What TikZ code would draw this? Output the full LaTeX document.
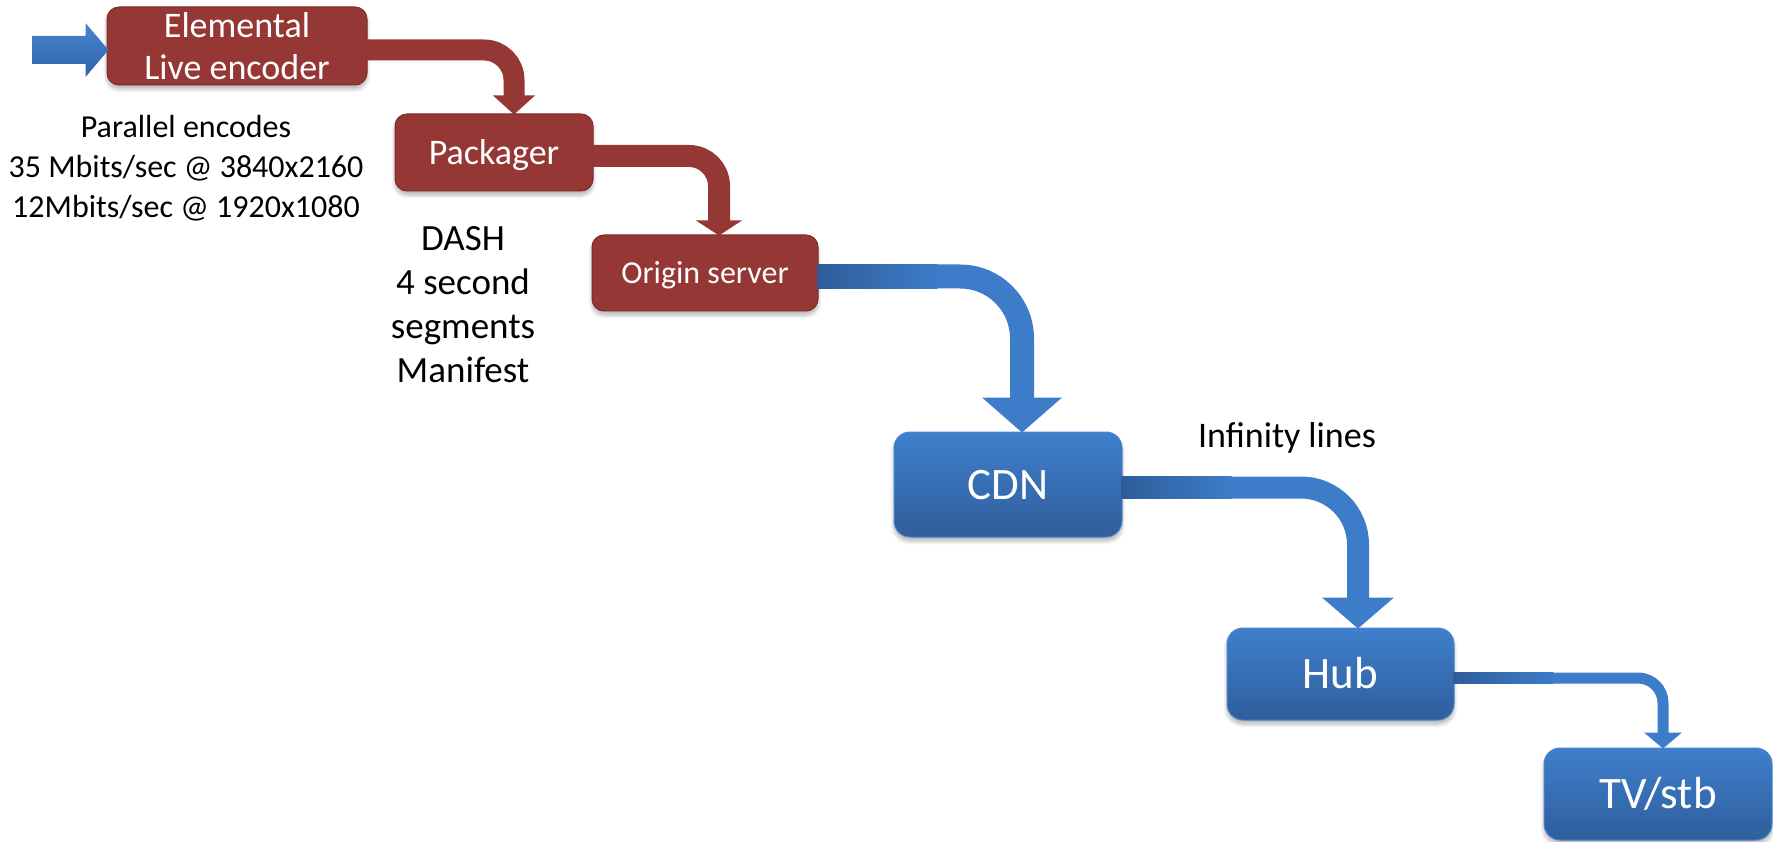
\documentclass[tikz,border=0pt]{standalone}
\usepackage{fontspec}
\setmainfont{Carlito}
\usetikzlibrary{calc,shadows.blur}

\definecolor{boxred}{HTML}{953735}
\definecolor{edgered}{HTML}{7E2D2B}
\definecolor{flowblue}{HTML}{3D7CC9}
\definecolor{shaftdark}{HTML}{2E5D9A}
\definecolor{boxtop}{HTML}{3F7FCC}
\definecolor{boxbottom}{HTML}{2F5E9C}
\definecolor{boxedge}{HTML}{4A86CE}
\definecolor{inlight}{HTML}{4686D2}
\definecolor{indark}{HTML}{2F63A6}

\tikzset{
  softshadow/.style={blur shadow={shadow xshift=0pt, shadow yshift=-4pt,
      shadow blur radius=4pt, shadow blur steps=8, shadow opacity=30}},
  stage/.style={rectangle, rounded corners=12pt, fill=boxred, draw=edgered,
      line width=1pt, text=white, inner sep=0pt, softshadow,
      font=\fontsize{36}{42}\selectfont},
  hop/.style={rectangle, rounded corners=16pt, top color=boxtop,
      bottom color=boxbottom, draw=boxedge, line width=1pt, text=white,
      inner sep=0pt, softshadow, font=\fontsize{45}{54}\selectfont,
      text height=29pt, text depth=0pt},
  note/.style={text=black, align=center, inner sep=0pt},
}

% bent block arrow: colour, start, tip, shaft width, head half-width,
% head length, corner radius
\newcommand{\flowbend}[7]{%
  \draw[#1, line width=#4, rounded corners=#7] (#2) -| ($(#3)+(0,-#6+1)$);
  \fill[#1] ($(#3)+(-#5,-#6)$) -- (#3) -- ($(#3)+(#5,-#6)$) -- cycle;
}
% darker start of a blue shaft: start, shaft width, length
\newcommand{\shaftshade}[3]{%
  \shade[left color=shaftdark, right color=flowblue]
    ($(#1)+(0,-#2/2)$) rectangle ($(#1)+(#3,#2/2)$);
}

\begin{document}
\begin{tikzpicture}[x=1pt,y=-1pt]
\useasboundingbox (0,0) rectangle (1773,842);

% processing stages
\node[stage, minimum width=260pt, minimum height=78pt, align=center]
  (enc) at (237,46) {Elemental\\Live encoder};
\node[stage, text height=23.4pt, text depth=0pt,
      minimum width=198pt, minimum height=77pt]
  (pkg) at (494,152.5) {Packager};
\node[stage, text height=20.8pt, text depth=0pt,
      minimum width=226pt, minimum height=76pt,
      font=\fontsize{32}{38}\selectfont]
  (orig) at (705,273) {Origin server};

% delivery chain
\node[hop, minimum width=228pt, minimum height=105pt] (cdn) at (1008,484.5) {CDN};
\node[hop, minimum width=227pt, minimum height=92pt] (hub) at (1340.5,674) {Hub};
\node[hop, minimum width=228pt, minimum height=92pt] (tv) at (1658,794) {TV/stb};

% notes (anchored on the baseline of their last line)
\node[note, font=\fontsize{32}{40}\selectfont, anchor=base] (encnote) at (186,218)
  {Parallel encodes\\35 Mbits/sec @ 3840x2160\\12Mbits/sec @ 1920x1080};
\node[note, font=\fontsize{37}{44}\selectfont, anchor=base] (dashnote) at (463,382)
  {DASH\\4 second\\segments\\Manifest};
\node[note, font=\fontsize{36}{43}\selectfont, anchor=base] (linknote) at (1287,447)
  {Infinity lines};

% incoming feed
\coordinate (src) at (32,50);
\coordinate (inTip) at ($(enc.west)+(2,4)$);
\shade[top color=inlight, bottom color=indark]
  ($(src)+(0,-14)$) -- ($(inTip)+(-23,-14)$) -- ($(inTip)+(-23,-27)$) -- (inTip)
  -- ($(inTip)+(-23,27)$) -- ($(inTip)+(-23,14)$) -- ($(src)+(0,14)$) -- cycle;

% connectors between stages
\coordinate (s1) at ($(enc.east)+(-1,4)$);
\coordinate (t1) at ($(pkg.north)+(20,1)$);
\flowbend{boxred}{s1}{t1}{21pt}{21}{19}{30pt}

\coordinate (s2) at ($(pkg.east)+(-1,3.5)$);
\coordinate (t2) at ($(orig.north)+(14,1)$);
\flowbend{boxred}{s2}{t2}{22pt}{23}{15}{30pt}

\coordinate (s3) at ($(orig.east)+(-1,3.5)$);
\coordinate (t3) at ($(cdn.north)+(14,1)$);
\flowbend{flowblue}{s3}{t3}{24pt}{40}{35}{62pt}
\shaftshade{s3}{24}{120}

\coordinate (s4) at ($(cdn.east)+(-1,3)$);
\coordinate (t4) at ($(hub.north)+(17.5,1)$);
\flowbend{flowblue}{s4}{t4}{22pt}{36}{31}{57pt}
\shaftshade{s4}{22}{110}

\coordinate (s5) at ($(hub.east)+(-1,4)$);
\coordinate (t5) at ($(tv.north)+(5,1)$);
\flowbend{flowblue}{s5}{t5}{11pt}{19}{16}{25pt}
\shaftshade{s5}{11}{100}
\end{tikzpicture}
\end{document}
